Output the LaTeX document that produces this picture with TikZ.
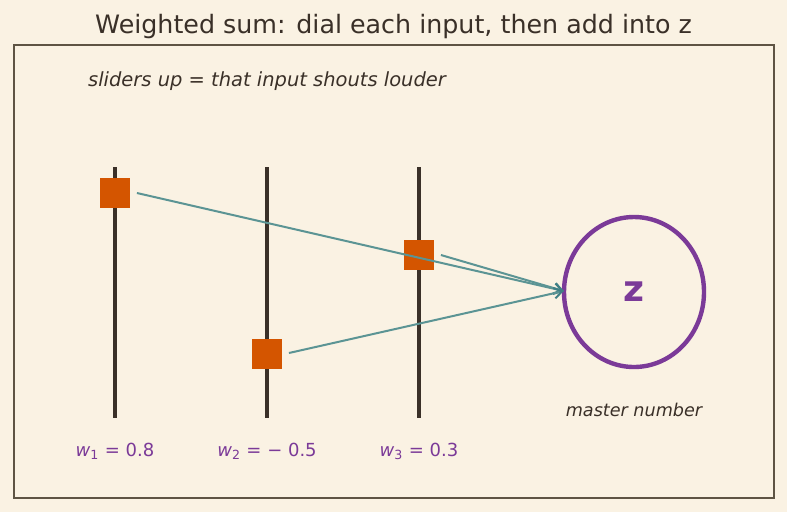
\documentclass[tikz,border=0pt]{standalone}
\usepackage{fontspec}
\setmainfont{DejaVu Sans}
\usepackage{xcolor}
\usetikzlibrary{arrows.meta,shapes.geometric}
\definecolor{paper}{HTML}{FAF2E3}
\definecolor{ink}{HTML}{3A3028}
\definecolor{framec}{HTML}{5E5444}
\definecolor{knobc}{HTML}{D45500}
\definecolor{wirec}{HTML}{5B9494}
\definecolor{tipc}{HTML}{3F7F85}
\definecolor{zc}{HTML}{7B3A98}

\begin{document}
\begin{tikzpicture}[x=0.75pt,y=-0.75pt,
  knob/.style={fill=knobc,minimum size=22.5pt,inner sep=0pt},
  slider/.style={ink,line width=3pt},
  wire/.style={wirec,line width=1.5pt,-{Straight Barb[length=6pt,width=8pt,color=tipc]}},
  wlabel/.style={zc,font=\fontsize{13.5}{16}\selectfont}]
\useasboundingbox (0,0) rectangle (787,512);
\fill [paper] (0,0) rectangle (787,512);
\draw (393.5,27) node [ink,font=\fontsize{19}{23}\selectfont] {Weighted sum: dial each input, then add into z};
\draw [framec,line width=1pt] (14,45) rectangle (774,498);
\draw (267,81) node [ink,font=\fontsize{14.6}{17}\selectfont\itshape] {sliders up = that input shouts louder};
% sliders
\draw [slider] (115,167) -- (115,418);
\draw [slider] (267,167) -- (267,418);
\draw [slider] (419,167) -- (419,418);
\node [knob] (k1) at (115,193) {};
\node [knob] (k2) at (267,354) {};
\node [knob] (k3) at (419,255) {};
% sum
\node [draw=zc,line width=3.3pt,ellipse,minimum width=105pt,minimum height=112.5pt,inner sep=0pt] (z) at (634,292) {};
\draw (z.center) node [zc,font=\fontsize{27}{30}\selectfont\bfseries] {z};
\draw (634,410) node [ink,font=\fontsize{13.2}{16}\selectfont\itshape] {master number};
\draw [wire] ([xshift=5pt]k1.east) -- ([xshift=1.5pt,yshift=0.75pt]z.west);
\draw [wire] ([xshift=5pt]k3.east) -- ([xshift=1.5pt,yshift=0.75pt]z.west);
\draw [wire] ([xshift=5pt,yshift=0.75pt]k2.east) -- ([xshift=1.5pt,yshift=0.75pt]z.west);
% weights
\draw (115,451) node [wlabel] {\textit{w}\textsubscript{1} = 0.8};
\draw (267,451) node [wlabel] {\textit{w}\textsubscript{2} = − 0.5};
\draw (419,451) node [wlabel] {\textit{w}\textsubscript{3} = 0.3};
\end{tikzpicture}
\end{document}
